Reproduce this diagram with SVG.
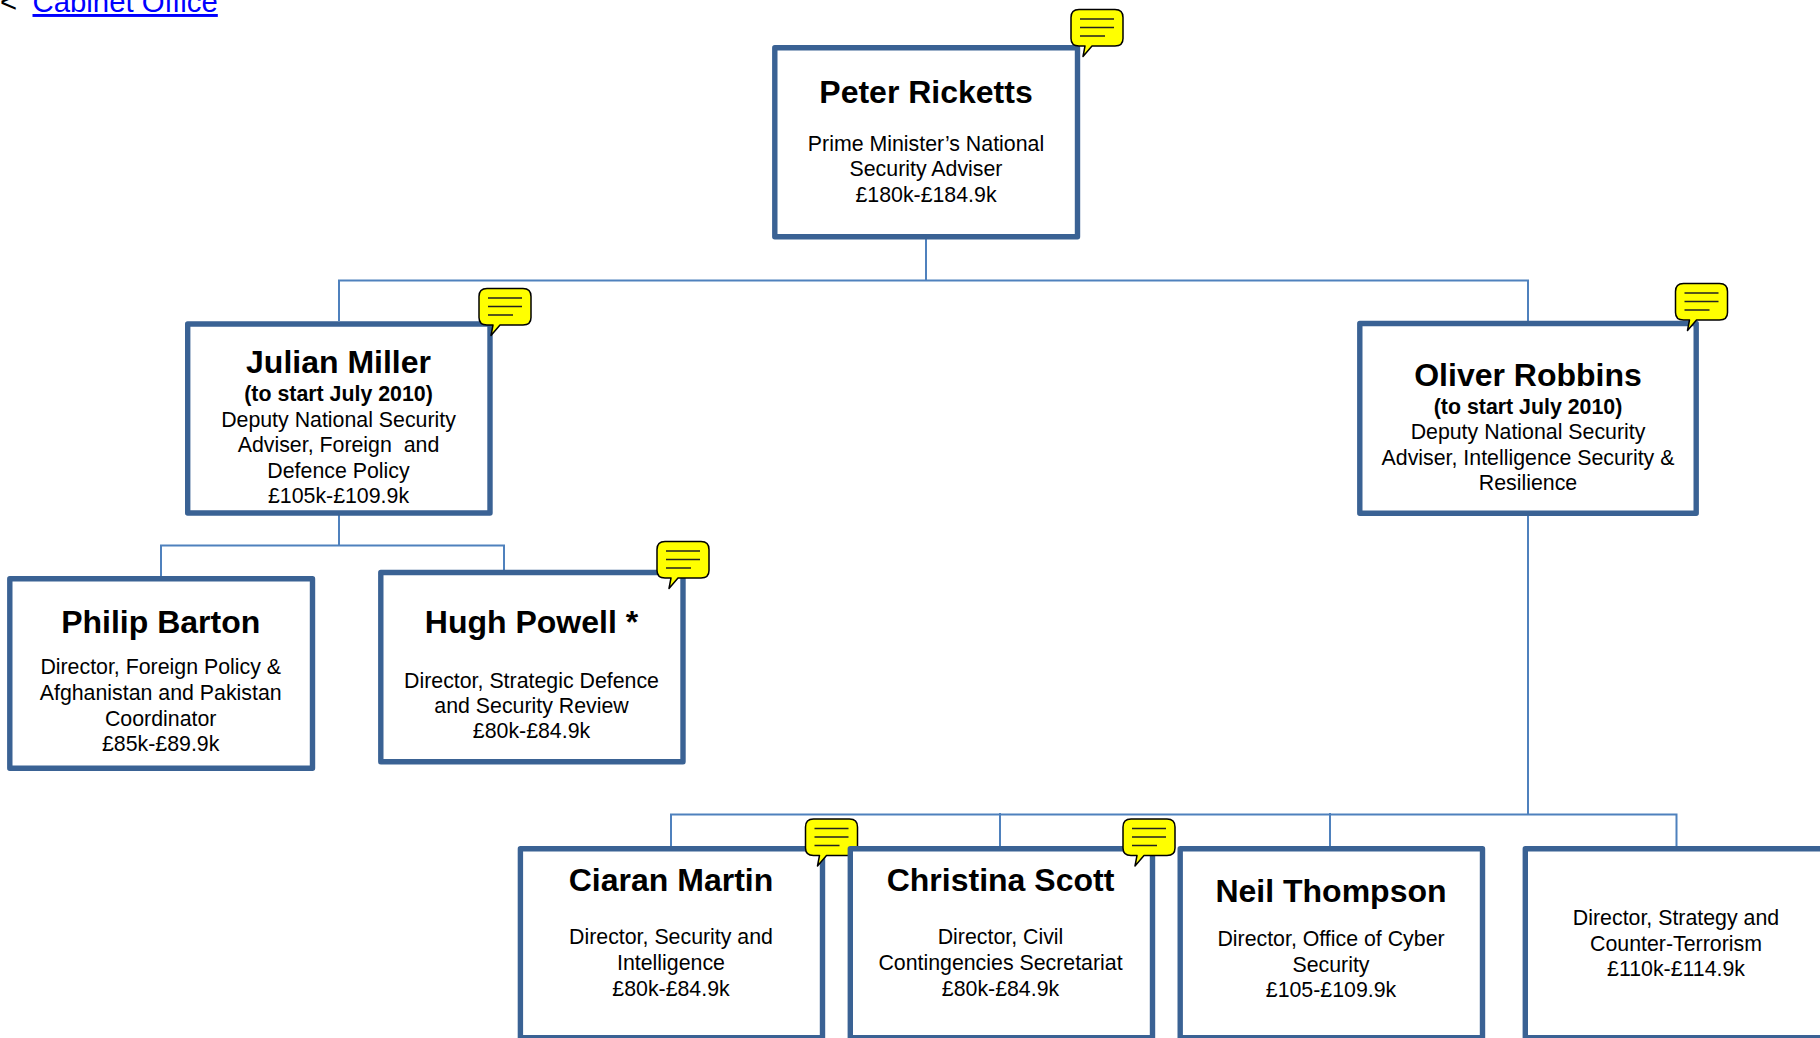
<svg xmlns="http://www.w3.org/2000/svg" width="1820" height="1038" viewBox="0 0 1820 1038">
<style>
text{font-family:"Liberation Sans",Arial,sans-serif;fill:#000;text-anchor:middle;white-space:pre}
.box{fill:#fff;stroke:#3a6294;stroke-width:5.400;stroke-linejoin:round}
.name{font-size:32px;font-weight:700}
.sub{font-size:21.33px;font-weight:700}
.t{font-size:21.33px}
.c{fill:none;stroke:#4f81bd;stroke-width:2}
.bub{fill:#ff0;stroke:#000;stroke-width:1.500;stroke-linejoin:round}
.bl{stroke:#222;stroke-width:1.500;fill:none}
</style>
<defs>
<g id="note">
<path class="bub" d="M8 0H44Q52 0 52 8V29Q52 36.500 44 36.500H21L12 47L14 36.500H8Q0 36.500 0 29V8Q0 0 8 0Z"/>
<path class="bl" d="M9 9.500H43M9 18H43M9 26.500H34"/>
</g>
</defs>
<g id="breadcrumb">
<text x="0" y="12" style="font-size:29.33px;text-anchor:start">&lt;</text>
<text x="32.500" y="12" style="font-size:29.33px;text-anchor:start;fill:#00f;text-decoration:underline">Cabinet Office</text>
</g>
<g id="connectors">
<path class="c" d="M926 239V280.500M339 321V280.500H1528V321"/>
<path class="c" d="M339 515V545.500M161 576V545.500H504V570"/>
<path class="c" d="M1528 515V814.500M671 847V814.500H1676.500V847M1000 813V847M1330 813V847"/>
</g>
<g id="peter-ricketts">
<rect class="box" x="774.800" y="47.800" width="302.700" height="189"/>
<text class="name" x="926" y="102.700">Peter Ricketts</text>
<text class="t" x="926" y="150.500">Prime Minister’s National</text>
<text class="t" x="926" y="175.700">Security Adviser</text>
<text class="t" x="926" y="202">£180k-£184.9k</text>
<use href="#note" x="1071" y="9.500"/>
</g>
<g id="julian-miller">
<rect class="box" x="187.700" y="324" width="302.300" height="189"/>
<text class="name" x="338.500" y="373">Julian Miller</text>
<text class="sub" x="338.500" y="401">(to start July 2010)</text>
<text class="t" x="338.500" y="426.500">Deputy National Security</text>
<text class="t" x="338.500" y="452">Adviser, Foreign  and</text>
<text class="t" x="338.500" y="477.500">Defence Policy</text>
<text class="t" x="338.500" y="502.700">£105k-£109.9k</text>
<use href="#note" x="479" y="288.500"/>
</g>
<g id="oliver-robbins">
<rect class="box" x="1359.800" y="323.500" width="336.400" height="189.700"/>
<text class="name" x="1528" y="385.500">Oliver Robbins</text>
<text class="sub" x="1528" y="414">(to start July 2010)</text>
<text class="t" x="1528" y="438.700">Deputy National Security</text>
<text class="t" x="1528" y="464.700">Adviser, Intelligence Security &amp;</text>
<text class="t" x="1528" y="490.300">Resilience</text>
<use href="#note" x="1675.500" y="283.500"/>
</g>
<g id="philip-barton">
<rect class="box" x="9.800" y="578.800" width="302.700" height="189.400"/>
<text class="name" x="160.700" y="633.300">Philip Barton</text>
<text class="t" x="160.700" y="674.400">Director, Foreign Policy &amp;</text>
<text class="t" x="160.700" y="700.300">Afghanistan and Pakistan</text>
<text class="t" x="160.700" y="725.500">Coordinator</text>
<text class="t" x="160.700" y="751">£85k-£89.9k</text>
</g>
<g id="hugh-powell">
<rect class="box" x="380.800" y="572.500" width="302.200" height="189.300"/>
<text class="name" x="531.500" y="633.300">Hugh Powell *</text>
<text class="t" x="531.500" y="687.500">Director, Strategic Defence</text>
<text class="t" x="531.500" y="713.300">and Security Review</text>
<text class="t" x="531.500" y="738.300">£80k-£84.9k</text>
<use href="#note" x="657" y="541.500"/>
</g>
<g id="ciaran-martin">
<rect class="box" x="520.400" y="848.700" width="302.100" height="189"/>
<text class="name" x="671" y="891">Ciaran Martin</text>
<text class="t" x="671" y="944">Director, Security and</text>
<text class="t" x="671" y="970.200">Intelligence</text>
<text class="t" x="671" y="996.300">£80k-£84.9k</text>
<use href="#note" x="805.500" y="819"/>
</g>
<g id="christina-scott">
<rect class="box" x="850.300" y="848.700" width="302.200" height="189"/>
<text class="name" x="1000.500" y="891">Christina Scott</text>
<text class="t" x="1000.500" y="944">Director, Civil</text>
<text class="t" x="1000.500" y="970.200">Contingencies Secretariat</text>
<text class="t" x="1000.500" y="996.300">£80k-£84.9k</text>
<use href="#note" x="1123" y="819"/>
</g>
<g id="neil-thompson">
<rect class="box" x="1180.200" y="848.700" width="302.300" height="189"/>
<text class="name" x="1331" y="902.300">Neil Thompson</text>
<text class="t" x="1331" y="945.700">Director, Office of Cyber</text>
<text class="t" x="1331" y="971.700">Security</text>
<text class="t" x="1331" y="997.300">£105-£109.9k</text>
</g>
<g id="strategy-director">
<rect class="box" x="1525.300" y="848.700" width="302" height="189"/>
<text class="t" x="1676" y="924.700">Director, Strategy and</text>
<text class="t" x="1676" y="950.700">Counter-Terrorism</text>
<text class="t" x="1676" y="975.700">£110k-£114.9k</text>
</g>
</svg>
